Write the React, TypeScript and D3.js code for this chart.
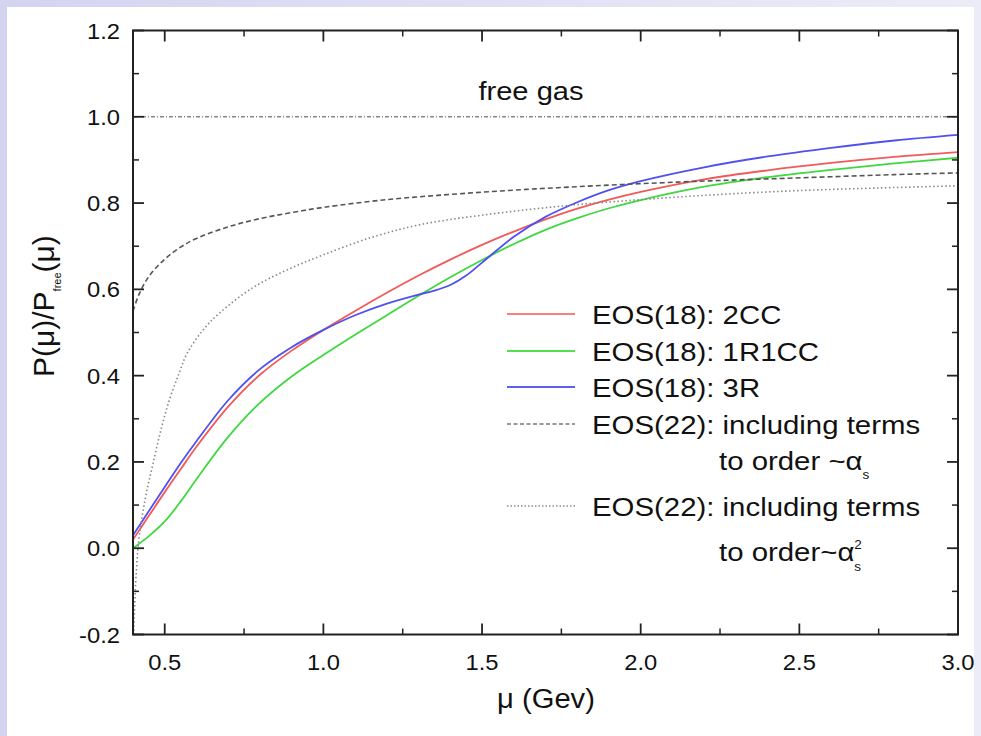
import React from "react";
import * as d3 from "d3";

const W = 981;
const H = 736;

const muMain = [0.4, 0.45, 0.5, 0.55, 0.6, 0.7, 0.8, 0.9, 1.0, 1.1, 1.2, 1.3, 1.4, 1.5, 1.6, 1.7, 1.8, 1.9, 2.0, 2.2, 2.4, 2.6, 2.8, 3.0];
const eos2CC = [0.02, 0.075, 0.13, 0.183, 0.235, 0.328, 0.402, 0.458, 0.506, 0.55, 0.592, 0.632, 0.669, 0.703, 0.734, 0.762, 0.787, 0.808, 0.826, 0.855, 0.876, 0.893, 0.907, 0.918];
const eos1R1CC = [0.0, 0.028, 0.062, 0.108, 0.16, 0.258, 0.337, 0.398, 0.448, 0.495, 0.54, 0.585, 0.628, 0.668, 0.705, 0.738, 0.765, 0.788, 0.807, 0.838, 0.86, 0.877, 0.892, 0.905];

const mu3R = [0.4, 0.45, 0.5, 0.55, 0.6, 0.7, 0.8, 0.9, 1.0, 1.1, 1.2, 1.3, 1.35, 1.4, 1.45, 1.5, 1.6, 1.7, 1.8, 1.9, 2.0, 2.2, 2.4, 2.6, 2.8, 3.0];
const eos3R = [0.03, 0.086, 0.142, 0.197, 0.248, 0.343, 0.415, 0.466, 0.506, 0.54, 0.567, 0.588, 0.597, 0.61, 0.632, 0.662, 0.722, 0.768, 0.802, 0.83, 0.851, 0.883, 0.908, 0.928, 0.945, 0.958];

const muAlpha1 = [0.4, 0.42, 0.45, 0.5, 0.55, 0.6, 0.7, 0.8, 0.9, 1.0, 1.2, 1.4, 1.6, 1.8, 2.0, 2.2, 2.4, 2.6, 2.8, 3.0];
const eosAlpha1 = [0.55, 0.59, 0.63, 0.67, 0.698, 0.718, 0.745, 0.764, 0.778, 0.79, 0.808, 0.82, 0.83, 0.838, 0.845, 0.851, 0.856, 0.861, 0.866, 0.87];

const muAlpha2 = [0.402, 0.41, 0.42, 0.44, 0.463, 0.49, 0.517, 0.545, 0.57, 0.62, 0.674, 0.778, 0.885, 1.0, 1.15, 1.305, 1.5, 1.75, 2.0, 2.25, 2.5, 2.75, 3.0];
const eosAlpha2 = [-0.2, -0.06, 0.03, 0.12, 0.196, 0.28, 0.349, 0.405, 0.451, 0.505, 0.546, 0.604, 0.645, 0.68, 0.72, 0.75, 0.772, 0.793, 0.808, 0.82, 0.829, 0.835, 0.84];

const xTicks = [0.5, 1.0, 1.5, 2.0, 2.5, 3.0];
const xMinor = [0.75, 1.25, 1.75, 2.25, 2.75];
const yTicks = [-0.2, 0.0, 0.2, 0.4, 0.6, 0.8, 1.0, 1.2];
const yMinor = [-0.1, 0.1, 0.3, 0.5, 0.7, 0.9, 1.1];

const legendLabels = ["EOS(18): 2CC", "EOS(18): 1R1CC", "EOS(18): 3R", "EOS(22): including terms", "EOS(22): including terms"];

const FONT = "'Liberation Sans', Arial, Helvetica, sans-serif";

const L = 133, R = 958, T = 30.5, B = 634.5;

function STxt({ x, y, size, sx = 1.1, anchor = "start", children }: any) {
  return (
    <g transform={`translate(${x},${y}) scale(${sx},1)`}>
      <text x={0} y={0} fontSize={size} textAnchor={anchor} fill="#111" fontFamily={FONT}>
        {children}
      </text>
    </g>
  );
}

export default function App() {
  const x = d3.scaleLinear().domain([0.4, 3.0]).range([L, R]);
  const y = d3.scaleLinear().domain([-0.2, 1.2]).range([B, T]);
  const line = d3
    .line<[number, number]>()
    .x((d) => x(d[0]))
    .y((d) => y(d[1]))
    .curve(d3.curveCatmullRom.alpha(0.5));
  const zip = (a: number[], b: number[]) => a.map((v, i) => [v, b[i]] as [number, number]);

  const series = [
    { d: zip(muMain, eos2CC), color: "#f25a5a", dash: undefined, w: 1.8 },
    { d: zip(muMain, eos1R1CC), color: "#3fd83f", dash: undefined, w: 1.8 },
    { d: zip(mu3R, eos3R), color: "#5050f0", dash: undefined, w: 1.8 },
    { d: zip(muAlpha1, eosAlpha1), color: "#555", dash: "5,3", w: 1.6 },
    { d: zip(muAlpha2, eosAlpha2), color: "#888", dash: "1.5,2.5", w: 1.6 },
  ];

  const legendY = [314, 351, 387, 424, 506];
  const legendStyle = [
    { color: "#f48080", dash: undefined },
    { color: "#50e050", dash: undefined },
    { color: "#6060f0", dash: undefined },
    { color: "#999", dash: "4,2.5" },
    { color: "#aaa", dash: "1.5,2" },
  ];

  return (
    <svg width={W} height={H} style={{ position: "absolute", left: 0, top: 0 }}>
      <defs>
        <linearGradient id="bg" x1="0" y1="0" x2="1" y2="0">
          <stop offset="0" stopColor="#d4d4f0" />
          <stop offset="1" stopColor="#ececf8" />
        </linearGradient>
        <clipPath id="plot">
          <rect x={L} y={T} width={R - L} height={B - T} />
        </clipPath>
      </defs>
      <rect x={0} y={0} width={W} height={H} fill="url(#bg)" />
      <rect x={7} y={7} width={967} height={H - 7} fill="#fff" />

      {/* free gas line */}
      <line x1={L} x2={R} y1={y(1.0)} y2={y(1.0)} stroke="#888" strokeWidth={1.6} strokeDasharray="4,2,1,2" />

      <g clipPath="url(#plot)">
        {series.map((s, i) => (
          <path key={i} d={line(s.d) || ""} fill="none" stroke={s.color} strokeWidth={s.w} strokeDasharray={s.dash} />
        ))}
      </g>

      {/* frame */}
      <rect x={L} y={T} width={R - L} height={B - T} fill="none" stroke="#222" strokeWidth={2} />

      {/* ticks */}
      {xTicks.map((t) => (
        <g key={"xt" + t}>
          <line x1={x(t)} x2={x(t)} y1={B} y2={B - 11} stroke="#222" strokeWidth={1.8} />
          <line x1={x(t)} x2={x(t)} y1={T} y2={T + 11} stroke="#222" strokeWidth={1.8} />
          <STxt x={x(t)} y={670} size={22} sx={1.08} anchor="middle">{t.toFixed(1)}</STxt>
        </g>
      ))}
      {xMinor.map((t) => (
        <g key={"xm" + t}>
          <line x1={x(t)} x2={x(t)} y1={B} y2={B - 6} stroke="#222" strokeWidth={1.5} />
          <line x1={x(t)} x2={x(t)} y1={T} y2={T + 6} stroke="#222" strokeWidth={1.5} />
        </g>
      ))}
      {yTicks.map((t) => (
        <g key={"yt" + t}>
          <line x1={L} x2={L + 11} y1={y(t)} y2={y(t)} stroke="#222" strokeWidth={1.8} />
          <line x1={R} x2={R - 11} y1={y(t)} y2={y(t)} stroke="#222" strokeWidth={1.8} />
          <STxt x={120} y={y(t) + 8} size={22} sx={1.08} anchor="end">{t.toFixed(1)}</STxt>
        </g>
      ))}
      {yMinor.map((t) => (
        <g key={"ym" + t}>
          <line x1={L} x2={L + 6} y1={y(t)} y2={y(t)} stroke="#222" strokeWidth={1.5} />
          <line x1={R} x2={R - 6} y1={y(t)} y2={y(t)} stroke="#222" strokeWidth={1.5} />
        </g>
      ))}

      {/* free gas label */}
      <STxt x={531} y={100} size={26} sx={1.12} anchor="middle">free gas</STxt>

      {/* axis titles */}
      <STxt x={546} y={708} size={27} sx={1.08} anchor="middle">μ (Gev)</STxt>
      <text transform={`translate(54,377) rotate(-90)`} fontSize={30} fontFamily={FONT} fill="#111">
        P(μ)/P
        <tspan fontSize={11} dy={7}>free</tspan>
        <tspan dy={-7}>(μ)</tspan>
      </text>

      {/* legend */}
      {legendLabels.map((lab, i) => (
        <g key={"lg" + i}>
          <line x1={507} x2={575} y1={legendY[i]} y2={legendY[i]} stroke={legendStyle[i].color} strokeWidth={1.8} strokeDasharray={legendStyle[i].dash} />
          <STxt x={592} y={legendY[i] + 10} size={26} sx={1.13}>{lab}</STxt>
        </g>
      ))}
      <STxt x={719} y={470} size={26} sx={1.13}>
        to order ~α<tspan fontSize={12} dy={9}>s</tspan>
      </STxt>
      <STxt x={719} y={561} size={26} sx={1.13}>
        to order~α<tspan fontSize={12} dy={-12}>2</tspan>
        <tspan fontSize={12} dx={-6.7} dy={22}>s</tspan>
      </STxt>
    </svg>
  );
}
